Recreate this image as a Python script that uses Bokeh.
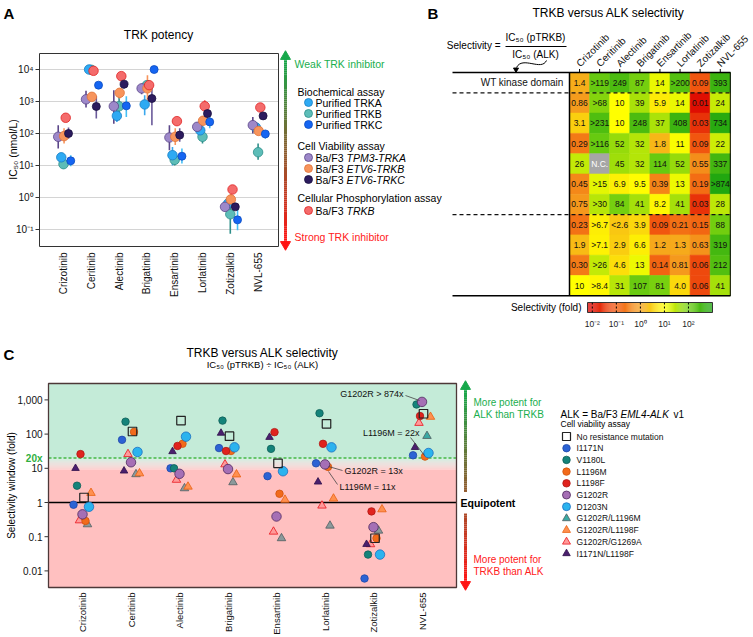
import numpy as np
from math import pi
from bokeh.plotting import figure
from bokeh.models import Range1d, LogScale, LogColorMapper, ColumnDataSource
from bokeh.transform import transform
from bokeh.core.properties import value
from bokeh.embed import file_html
from bokeh.resources import INLINE

nan = float("nan")
FONT = "Liberation Sans"
F = value(FONT)

# ------------------------------------------------------------------ data
drugs = ["Crizotinib", "Ceritinib", "Alectinib", "Brigatinib", "Ensartinib",
         "Lorlatinib", "Zotizalkib", "NVL-655"]

# Panel A : IC50 (nmol/L), central value and error-bar ends
trka    = [18, 10000, 355, 810, 21, 126, 0.65, 155]
trka_lo = [12, nan, 230, 375, 10, nan, nan, 120]
trka_hi = [25, nan, 540, 1580, 38, nan, nan, 190]
trkb    = [11, 9800, 710, 3240, 15, 79, 0.30, 26]
trkb_lo = [7.8, nan, 260, 2250, 10, 49, 0.074, 15]
trkb_hi = [15, nan, 1580, 4100, 24, 112, 1.17, 49]
trkc    = [14, 3240, 730, 10000, 19.5, 230, 0.20, 97]
trkc_lo = [9.5, nan, 330, nan, 11.5, 145, 0.095, 69]
trkc_hi = [21, nan, 1470, nan, 34, 330, 0.51, 126]
tpm3_trka    = [79, 1170, 710, 2570, 75, 162, 0.51, 182]
tpm3_trka_lo = [34, 650, 200, 1700, 30, 112, nan, 100]
tpm3_trka_hi = [182, 2150, 2240, 3650, 182, 230, nan, 330]
etv6_trkb    = [83, 1400, 1870, 2570, 79, 250, 0.87, 120]
etv6_trkb_lo = [49, nan, 1230, 680, 44, 182, 0.6, 89]
etv6_trkb_hi = [145, nan, 2570, 6600, 145, 350, 1.3, 182]
etv6_trkc    = [100, 700, 3470, 1240, 89, 420, 0.51, 355]
etv6_trkc_lo = [69, 295, 2570, 182, 55, 260, nan, nan]
etv6_trkc_hi = [155, 1470, 4640, 3240, 145, 600, nan, nan]
ptrkb    = [310, 9100, 6200, 3240, 243, 710, 1.78, 650]
ptrkb_lo = [nan, nan, nan, 2150, nan, 480, nan, nan]
ptrkb_hi = [nan, nan, nan, 4350, nan, 1100, nan, nan]
a_yticks = [0.1, 1, 10, 100, 1000, 10000]
a_yticklabels = ["10\u207b\u00b9", "10\u2070", "10\u00b9", "10\u00b2", "10\u00b3", "10\u2074"]

# Panel B / C : selectivity (fold)
mutations = ["WT kinase domain", "I1171N", "V1180L", "L1196M", "L1198F", "G1202R",
             "D1203N", "G1202R/L1196M", "G1202R/L1198F", "G1202R/G1269A", "I1171N/L1198F"]
sel_wt            = ["1.4", ">119", "249", "87", "14", ">200", "0.09", "393"]
sel_i1171n        = ["0.86", ">68", "10", "39", "5.9", "14", "0.01", "24"]
sel_v1180l        = ["3.1", ">231", "10", "248", "37", "408", "0.03", "734"]
sel_l1196m        = ["0.29", ">116", "52", "32", "1.8", "11", "0.09", "22"]
sel_l1198f        = ["26", "N.C.", "45", "32", "114", "52", "0.55", "337"]
sel_g1202r        = ["0.45", ">15", "6.9", "9.5", "0.39", "13", "0.19", ">874"]
sel_d1203n        = ["0.75", ">30", "84", "41", "8.2", "41", "0.03", "28"]
sel_g1202r_l1196m = ["0.23", ">6.7", "<2.6", "3.9", "0.09", "0.21", "0.15", "88"]
sel_g1202r_l1198f = ["1.9", ">7.1", "2.9", "6.6", "1.2", "1.3", "0.63", "319"]
sel_g1202r_g1269a = ["0.30", ">26", "4.6", "13", "0.14", "0.81", "0.06", "212"]
sel_i1171n_l1198f = ["10", ">8.4", "31", "107", "81", "4.0", "0.06", "41"]
zotizalkib_i1171n_exact = 0.006   # value plotted in panel C (table shows rounded 0.01)

sel_rows = [sel_wt, sel_i1171n, sel_v1180l, sel_l1196m, sel_l1198f, sel_g1202r, sel_d1203n,
            sel_g1202r_l1196m, sel_g1202r_l1198f, sel_g1202r_g1269a, sel_i1171n_l1198f]
legend_names_c = ["No resistance mutation"] + mutations[1:]

cbar_ticks = [0.01, 0.1, 1, 10, 100]
cbar_labels = ["10\u207b\u00b2", "10\u207b\u00b9", "10\u2070", "10\u00b9", "10\u00b2"]
c_yticks = [0.01, 0.1, 1, 10, 100, 1000]
c_yticklabels = ["0.01", "0.1", "1", "10", "100", "1,000"]
c_threshold = 20


def num(s):
    s = s.strip("<>")
    try:
        return float(s)
    except ValueError:
        return nan


sel_vals = [[num(s) for s in r] for r in sel_rows]


# ------------------------------------------------------------------ helpers
def hx(c):
    return [int(c[i:i + 2], 16) for i in (1, 3, 5)]


def lerp(c0, c1, t):
    a, b = hx(c0), hx(c1)
    return "#%02x%02x%02x" % tuple(int(round(a[k] + (b[k] - a[k]) * t)) for k in range(3))


# Canvas extents expressed in page pixels
CX0, CX1, CY0, CY1 = 0, 750, 0, 634


def xr_lin(px0, v0, ppu):
    return Range1d(v0 + (CX0 - px0) / ppu, v0 + (CX1 - px0) / ppu)


def yr_down(py0, v0, ppu):
    return Range1d(v0 + (CY1 - py0) / ppu, v0 + (CY0 - py0) / ppu)


def yr_log(py0, L0, ppd):
    return Range1d(10 ** (L0 - (CY1 - py0) / ppd), 10 ** (L0 + (py0 - CY0) / ppd))


p = figure(width=CX1 - CX0, height=CY1 - CY0, x_range=Range1d(CX0, CX1),
           y_range=Range1d(CY1, CY0), output_backend="svg", toolbar_location=None,
           title=None, x_axis_location=None, y_axis_location=None, min_border=0)
p.grid.visible = False
p.outline_line_color = None
p.extra_x_ranges = {"ax": xr_lin(63, 0, 27.8), "bx": xr_lin(569, 0, 20.1),
                    "cx": xr_lin(82, 0, 48.5)}
p.extra_y_ranges = {"ay": yr_log(197, 0, 32.0), "by": yr_down(72, 0, 20.3),
                    "cy": yr_log(502, 0, 34.2)}
p.extra_y_scales = {"ay": LogScale(), "cy": LogScale()}


def rn(xr, yr):
    kw = {}
    if xr:
        kw["x_range_name"] = xr
    if yr:
        kw["y_range_name"] = yr
    return kw


def txt(x, y, s, size="10px", color="#000000", align="left", baseline="middle",
        style="normal", angle=0.0, xr=None, yr=None):
    xs = x if isinstance(x, list) else [x]
    ys = y if isinstance(y, list) else [y] * len(xs)
    ss = s if isinstance(s, list) else [s] * len(xs)
    p.text(x=xs, y=ys, text=ss, text_font=F, text_font_size=size, text_color=color,
           text_align=align, text_baseline=baseline, text_font_style=style, angle=angle,
           **rn(xr, yr))


def grad_arrow(x, y0, y1, c_top, c_bot, gap=None, n=90):
    ys = np.linspace(y0, y1, n + 1)
    xs0, ys0, ys1, cols = [], [], [], []
    for i in range(n):
        m = 0.5 * (ys[i] + ys[i + 1])
        if gap and gap[0] < m < gap[1]:
            continue
        xs0.append(x); ys0.append(ys[i]); ys1.append(ys[i + 1])
        cols.append(lerp(c_top, c_bot, i / (n - 1)))
    p.segment(x0=xs0, y0=ys0, x1=xs0, y1=ys1, line_color=cols, line_width=3)
    p.scatter(x=[x], y=[y0 - 2], marker="triangle", size=10, fill_color=c_top, line_color=c_top)
    p.scatter(x=[x], y=[y1 + 2], marker="inverted_triangle", size=10, fill_color=c_bot,
              line_color=c_bot)


GREEN_T, RED_T = "#1aae4e", "#ff2020"

# ------------------------------------------------------------------ Panel A
AL, AR, AT, AB = 39, 278, 53, 246
txt(3, 4, "A", size="15px", style="bold", baseline="top")
txt(158, 34, "TRK potency", size="12px", align="center")
txt(12, 149, "IC\u2085\u2080 (nmol/L)", size="10.5px", align="center", angle=pi / 2)
p.segment(x0=[AL] * 6, x1=[AR] * 6, y0=a_yticks, y1=a_yticks, line_color="#d4d4d4",
          line_width=1, **rn(None, "ay"))
p.segment(x0=[AL - 4] * 6, x1=[AL] * 6, y0=a_yticks, y1=a_yticks, line_color="#333333",
          line_width=1, **rn(None, "ay"))
txt([AL - 6] * 6, a_yticks, a_yticklabels, size="10px", align="right", yr="ay", color="#111111")
txt(list(range(len(drugs))), AB + 6, drugs, size="10px", align="right", angle=pi / 2,
    xr="ax", color="#111111")

a_series = [
    # name, vals, lo, hi, dx, size, fill, line, errcolor
    ("Purified TRKB", trkb, trkb_lo, trkb_hi, 0.0, 9.5, "#5dbdb8", "#2f8f8a", "#2f8f8a"),
    ("Purified TRKA", trka, trka_lo, trka_hi, -0.08, 9.5, "#2eaaf3", "#1b7fc4", "#3aa8ee"),
    ("Ba/F3 TPM3-TRKA", tpm3_trka, tpm3_trka_lo, tpm3_trka_hi, -0.19, 9.5, "#9d88c9", "#5b4689", "#5b4689"),
    ("Ba/F3 ETV6-TRKB", etv6_trkb, etv6_trkb_lo, etv6_trkb_hi, 0.02, 9.5, "#f7945c", "#e0743a", "#f7945c"),
    ("Ba/F3 TRKB", ptrkb, ptrkb_lo, ptrkb_hi, 0.08, 9.5, "#f46b6b", "#e02424", "#f05050"),
    ("Ba/F3 ETV6-TRKC", etv6_trkc, etv6_trkc_lo, etv6_trkc_hi, 0.18, 8, "#2c1b5e", "#1a1040", "#6a5a9a"),
    ("Purified TRKC", trkc, trkc_lo, trkc_hi, 0.26, 8, "#1565f2", "#0d4cc0", "#45c0f5"),
]
for name, v, lo, hi, dx, sz, fc, lc, ec in a_series:
    xs = [i + dx for i in range(len(drugs))]
    p.segment(x0=xs, y0=lo, x1=xs, y1=hi, line_color=ec, line_width=1.6, **rn("ax", "ay"))
for name, v, lo, hi, dx, sz, fc, lc, ec in a_series:
    xs = [i + dx for i in range(len(drugs))]
    p.scatter(x=xs, y=v, marker="circle", size=sz, fill_color=fc, line_color=lc,
              line_width=0.8, **rn("ax", "ay"))
p.quad(left=[AL], right=[AR], top=[AT], bottom=[AB], fill_color=None, line_color="#333333",
       line_width=1)

# arrow + legend of A
grad_arrow(285, 58, 242, "#16a84a", "#ff1414")
txt(294, 63, "Weak TRK inhibitor", size="10.5px", color=GREEN_T)
txt(294, 236, "Strong TRK inhibitor", size="10.5px", color=RED_T)
txt(297, 91, "Biochemical assay", size="10.5px")
txt(297, 145, "Cell Viability assay", size="10.5px")
txt(297, 197, "Cellular Phosphorylation assay", size="10.5px")
legA = [(102, "Purified TRKA", "", 1), (113, "Purified TRKB", "", 0),
        (124, "Purified TRKC", "", 6), (157, "Ba/F3 ", "TPM3-TRKA", 2),
        (168, "Ba/F3 ", "ETV6-TRKB", 3), (179, "Ba/F3 ", "ETV6-TRKC", 5),
        (210, "Ba/F3 ", "TRKB", 4)]
for y, t1, t2, si in legA:
    s = a_series[si]
    p.scatter(x=[308], y=[y], marker="circle", size=8, fill_color=s[6], line_color=s[7],
              line_width=0.8)
    txt(315, y, t1, size="10.5px")
    if t2:
        txt(346, y, t2, size="10.5px", style="italic")

# ------------------------------------------------------------------ Panel B (heatmap)
txt(427, 4, "B", size="15px", style="bold", baseline="top")
stops = [(-2.2, "#dc0000"), (-1.0, "#f25a10"), (0.0, "#f5a01e"), (1.0, "#ffff00"),
         (2.0, "#6ccc10"), (3.0, "#1ea510")]
palette = []
for L in np.linspace(-2.2, 3.0, 256):
    for (l0, c0), (l1, c1) in zip(stops[:-1], stops[1:]):
        if l0 <= L <= l1:
            palette.append(lerp(c0, c1, (L - l0) / (l1 - l0)))
            break
mapper = LogColorMapper(palette=palette, low=10 ** -2.2, high=10 ** 3.0, nan_color="#a6a6a6")

cx_, cy_, cv, cl, ctc = [], [], [], [], []
for r, (labs, vals) in enumerate(zip(sel_rows, sel_vals)):
    for c, (s, v) in enumerate(zip(labs, vals)):
        cx_.append(c + 0.5); cy_.append(r + 0.5); cv.append(v); cl.append(s)
        ctc.append("#ffffff" if s == "N.C." else "#111111")
srcB = ColumnDataSource(dict(x=cx_, y=cy_, v=cv, label=cl, tc=ctc))
p.rect(x="x", y="y", width=1, height=1, source=srcB, fill_color=transform("v", mapper),
       line_color=transform("v", mapper), line_width=0.6, **rn("bx", "by"))
p.text(x="x", y="y", text="label", source=srcB, text_color="tc", text_font=F,
       text_font_size="8.5px", text_align="center", text_baseline="middle", **rn("bx", "by"))

nr, nc = len(mutations), len(drugs)
BL = 452
p.segment(x0=[BL, BL], y0=[0, nr], x1=[730, 730], y1=[0, nr], line_color="black",
          line_width=1.5, **rn(None, "by"))
p.segment(x0=[BL, BL], y0=[1, 7], x1=[730, 730], y1=[1, 7], line_color="#111111",
          line_width=1.2, line_dash="4 3", **rn(None, "by"))
p.segment(x0=[0, nc], y0=[0, 0], x1=[0, nc], y1=[nr, nr], line_color="black",
          line_width=[1.5, 1.0], **rn("bx", "by"))
txt(563, [r + 0.5 for r in range(nr)], mutations, size="10px", align="right", yr="by",
    color="#111111")
p.segment(x0=[c + 0.5 for c in range(nc)], y0=[72] * nc, x1=[c + 0.5 for c in range(nc)],
          y1=[68.5] * nc, line_color="black", line_width=1, **rn("bx", None))
txt([c + 0.42 for c in range(nc)], 64.5, drugs, size="10px", angle=pi / 4, xr="bx",
    color="#111111")

txt(608, 12, "TRKB versus ALK selectivity", size="12px", align="center")
txt(500, 45, "Selectivity =", size="10px", align="right")
txt(535, 37, "IC\u2085\u2080 (pTRKB)", size="10px", align="center")
txt(535, 54, "IC\u2085\u2080 (ALK)", size="10px", align="center")
p.segment(x0=[505], y0=[46], x1=[566], y1=[46], line_color="black", line_width=1)
p.bezier(x0=[546], y0=[60], x1=[516], y1=[67], cx0=[541], cy0=[71], cx1=[522], cy1=[55],
         line_color="black", line_width=1)
p.scatter(x=[515.5], y=[69], marker="inverted_triangle", size=5, color="black")

# colour bar
CBL, CBR, CBT, CBB = 587, 712, 302, 312
edges = np.linspace(-2.2, 3.0, 131)
cbx = lambda L: CBL + (L + 2.2) / 5.2 * (CBR - CBL)
cb_src = ColumnDataSource(dict(
    left=[cbx(a) for a in edges[:-1]], right=[cbx(b) for b in edges[1:]],
    top=[CBT] * 130, bottom=[CBB] * 130,
    v=[10 ** (0.5 * (a + b)) for a, b in zip(edges[:-1], edges[1:])]))
p.quad(left="left", right="right", top="top", bottom="bottom", source=cb_src,
       fill_color=transform("v", mapper), line_color=None)
p.quad(left=[CBL], right=[CBR], top=[CBT], bottom=[CBB], fill_color=None,
       line_color="#333333", line_width=1)
tk = [cbx(np.log10(t)) for t in cbar_ticks]
p.segment(x0=tk, y0=[CBT] * 5, x1=tk, y1=[CBB] * 5, line_color="black", line_width=1,
          line_dash="2 2")
txt(tk, 323, cbar_labels, size="8.5px", align="center", color="#222222")
txt(581, 307, "Selectivity (fold)", size="10px", align="right")

# ------------------------------------------------------------------ Panel C
CL, CR, CT, CB = 48, 456, 383, 587
txt(3, 345, "C", size="15px", style="bold", baseline="top")
txt(262, 352, "TRKB versus ALK selectivity", size="12px", align="center")
txt(262, 364, "IC\u2085\u2080 (pTRKB) \u00f7 IC\u2085\u2080 (ALK)", size="9.5px", align="center")
txt(11, 485, "Selectivity window (fold)", size="10px", align="center", angle=pi / 2)

log_top = 10 ** ((502 - CT) / 34.2)
log_bot = 10 ** ((502 - CB) / 34.2)
GREEN_BG, PINK_BG, MID_BG = "#c4ebd8", "#ffc0c0", "#e6d8d4"
p.quad(left=[CL], right=[CR], bottom=[log_bot], top=[9], fill_color=PINK_BG, line_color=None,
       **rn(None, "cy"))
p.quad(left=[CL], right=[CR], bottom=[c_threshold], top=[log_top], fill_color=GREEN_BG,
       line_color=None, **rn(None, "cy"))
lv = np.linspace(np.log10(9), np.log10(c_threshold), 25)
p.quad(left=[CL] * 24, right=[CR] * 24, bottom=list(10 ** lv[:-1]), top=list(10 ** lv[1:]),
       fill_color=[lerp(PINK_BG, MID_BG, i / 11) if i < 12 else lerp(MID_BG, GREEN_BG, (i - 12) / 11)
                   for i in range(24)], line_color=None, **rn(None, "cy"))
p.segment(x0=[CL], x1=[CR], y0=[c_threshold], y1=[c_threshold], line_color="#45b845",
          line_width=1.5, line_dash="3 2", **rn(None, "cy"))
p.segment(x0=[CL], x1=[CR], y0=[1], y1=[1], line_color="black", line_width=1.4,
          **rn(None, "cy"))
p.segment(x0=[CL - 4] * 6, x1=[CL] * 6, y0=c_yticks, y1=c_yticks, line_color="#333333",
          line_width=1, **rn(None, "cy"))
txt([CL - 6] * 6, c_yticks, c_yticklabels, size="10px", align="right", yr="cy", color="#111111")
txt(42, c_threshold, "20x", size="10px", style="bold", color="#2fb040", align="right", yr="cy")
txt(list(range(len(drugs))), CB + 5, drugs, size="9.5px", align="right", angle=pi / 2,
    xr="cx", color="#111111")

c_styles = [
    ("square", 8.5, None, "#222222", 0.031),
    ("circle", 7.5, "#2b63d4", "#2048a8", -0.185),
    ("circle", 7.5, "#14837a", "#0e5f58", -0.113),
    ("circle", 7.5, "#f26a1b", "#d0540c", 0.062),
    ("circle", 7.5, "#e0231e", "#b01a15", -0.041),
    ("circle", 9.5, "#a56fb5", "#4e2a5e", 0.0),
    ("circle", 9.5, "#2bb3ee", "#1d6fc0", 0.134),
    ("triangle", 8.5, "#8b999b", "#4f5d60", 0.103),
    ("triangle", 8.5, "#ff9050", "#e8600f", 0.175),
    ("triangle", 8.5, "#ff9a9a", "#e8141c", -0.062),
    ("triangle", 7.5, "#4a1f6e", "#2e0f4a", -0.144),
]
c_vals = [list(r) for r in sel_vals]
c_vals[1][drugs.index("Zotizalkib")] = zotizalkib_i1171n_exact
for k in [7, 8, 9, 10, 1, 2, 3, 4, 5, 6, 0]:
    mk, sz, fc, lc, dx = c_styles[k]
    xs = [i + dx for i in range(len(drugs))]
    fcs = fc
    if k == 7:
        fcs = ["#3aa9a3" if d == "NVL-655" else fc for d in drugs]
    p.scatter(x=xs, y=c_vals[k], marker=mk, size=sz, fill_color=fcs, line_color=lc,
              line_width=1.2 if k == 0 else 0.8, **rn("cx", "cy"))

annC = [("G1202R > 874x", 403, 393, "right", (405, 395), (419, 400)),
        ("L1196M = 22x", 419, 432, "right", (410, 437), (424, 455)),
        ("G1202R = 13x", 344, 470, "left", (328, 466), (342, 470)),
        ("L1196M = 11x", 339, 486, "left", (328, 471), (337, 484))]
for t, x, y, al, p0, p1 in annC:
    p.segment(x0=[p0[0]], y0=[p0[1]], x1=[p1[0]], y1=[p1[1]], line_color="#444444",
              line_width=0.8)
    txt(x, y, t, size="9px", align=al, color="#111111")
p.quad(left=[CL], right=[CR], top=[CT], bottom=[CB], fill_color=None, line_color="#4d3838",
       line_width=1.3)

# arrow + legend of C
grad_arrow(465, 388, 582, "#16a84a", "#ff1414", gap=(492, 512))
txt(460, 502, "Equipotent", size="10.5px", style="bold")
txt(473, 402, "More potent for", size="10px", color=GREEN_T)
txt(473, 414, "ALK than TRKB", size="10px", color=GREEN_T)
txt(473, 559, "More potent for", size="10px", color=RED_T)
txt(473, 571, "TRKB than ALK", size="10px", color=RED_T)
txt(560, 414, "ALK = Ba/F3 ", size="10px")
txt(620, 414, "EML4-ALK", size="10px", style="italic")
txt(673, 414, "v1", size="10px")
txt(560, 423.5, "Cell viability assay", size="8.5px")
for k, name in enumerate(legend_names_c):
    mk, sz, fc, lc, dx = c_styles[k]
    if k == 7:
        fc = "#3aa9a3"
    y = 436 + k * 11.7
    p.scatter(x=[566], y=[y], marker=mk, size=min(sz, 8), fill_color=fc, line_color=lc,
              line_width=1.2 if k == 0 else 0.8)
    txt(576, y, name, size="8.5px", color="#111111")

open("out.html", "w").write(file_html(p, INLINE))
